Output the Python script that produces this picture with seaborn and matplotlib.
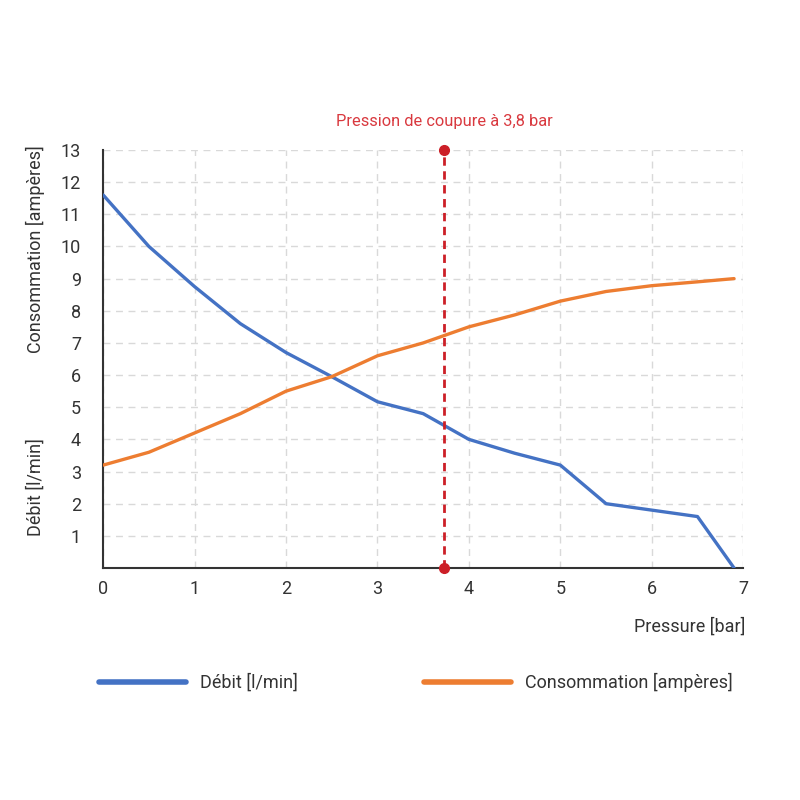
import pandas as pd
import matplotlib
matplotlib.use("Agg")
import matplotlib.pyplot as plt
import seaborn as sns

# Data
pressure = [0, 0.5, 1, 1.5, 2, 2.5, 3, 3.5, 4, 4.5, 5, 5.5, 6, 6.5, 6.9]
debit = [11.6, 10.0, 8.75, 7.6, 6.7, 5.95, 5.17, 4.8, 4.0, 3.57, 3.2, 2.0, 1.8, 1.6, 0.0]
consommation = [3.2, 3.6, 4.2, 4.8, 5.5, 5.95, 6.6, 7.0, 7.5, 7.87, 8.3, 8.6, 8.78, 8.9, 9.0]
series_names = ["Débit [l/min]", "Consommation [ampères]"]
cutoff = 3.73
cutoff_label = "Pression de coupure à 3,8 bar"
x_ticks = [0, 1, 2, 3, 4, 5, 6, 7]
y_ticks = list(range(1, 14))


def main():
    sns.set_style("white")
    plt.rcParams["font.family"] = ["Roboto", "DejaVu Sans"]

    df = pd.DataFrame({
        "pressure": pressure * 2,
        "value": debit + consommation,
        "serie": [series_names[0]] * len(pressure) + [series_names[1]] * len(pressure),
    })

    fig = plt.figure(figsize=(8, 8), dpi=100)
    ax = fig.add_axes([0.129, 0.29, 0.8, 0.5225])

    sns.lineplot(data=df, x="pressure", y="value", hue="serie",
                 palette=["#4472c4", "#ed7d31"], linewidth=2.4, ax=ax,
                 legend=False, zorder=3)

    ax.set_xlim(0, 7)
    ax.set_ylim(0, 13)
    ax.set_xticks(x_ticks)
    ax.set_yticks(y_ticks)
    ax.tick_params(axis="both", length=0, labelsize=13, colors="#333333")
    ax.tick_params(axis="y", pad=16)
    ax.tick_params(axis="x", pad=9)
    ax.grid(True, linestyle=(0, (5, 4)), color="#d9d9d9", linewidth=1)
    ax.set_axisbelow(True)

    for side in ["top", "right"]:
        ax.spines[side].set_visible(False)
    for side in ["left", "bottom"]:
        ax.spines[side].set_color("#333333")
        ax.spines[side].set_linewidth(1.5)

    ax.set_xlabel("")
    ax.set_ylabel("")

    # cut-off pressure marker
    ax.plot([cutoff, cutoff], [0, 13], color="#cc1f27", linestyle=(0, (3, 2)),
            linewidth=2, zorder=4, clip_on=False)
    ax.plot([cutoff, cutoff], [0, 13], "o", color="#cc1f27", markersize=7,
            zorder=5, clip_on=False)
    ax.text(cutoff, 13.9, cutoff_label, color="#d9393f", fontsize=11.8,
            ha="center", va="center")

    # axis titles
    fig.text(0.932, 0.217, "Pressure [bar]", fontsize=13, color="#333333",
             ha="right", va="center")
    fig.text(0.044, 0.688, "Consommation [ampères]", fontsize=13,
             color="#333333", rotation=90, ha="center", va="center")
    fig.text(0.044, 0.391, "Débit [l/min]", fontsize=13, color="#333333",
             rotation=90, ha="center", va="center")

    # legend
    handles = [plt.Line2D([], [], color="#4472c4", linewidth=4),
               plt.Line2D([], [], color="#ed7d31", linewidth=4)]
    fig.legend(handles, series_names, loc="center", ncol=2,
               bbox_to_anchor=(0.52, 0.147), frameon=False, fontsize=13,
               handlelength=4.8, handletextpad=0.8, columnspacing=7.0,
               labelcolor="#333333")

    fig.savefig("out.png", dpi=100)
    plt.close(fig)


if __name__ == "__main__":
    main()
